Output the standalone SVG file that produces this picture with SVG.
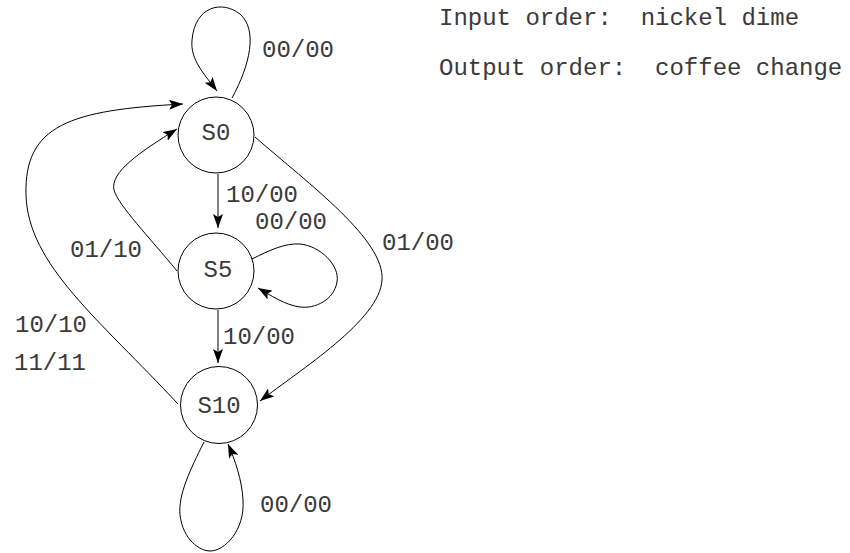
<svg xmlns="http://www.w3.org/2000/svg" width="850" height="553" viewBox="0 0 850 553">
  <style>
    .state { fill: #ffffff; stroke: #000000; stroke-width: 1; }
    .edge { fill: none; stroke: #000000; stroke-width: 1; marker-end: url(#arrow); }
    text { font-family: "Liberation Mono", "Courier New", monospace; font-size: 24px; fill: #3a3a3a; white-space: pre; }
    .name { text-anchor: middle; }
  </style>
  <defs>
    <marker id="arrow" viewBox="0 0 14 10" refX="14" refY="5" markerWidth="14" markerHeight="10" markerUnits="userSpaceOnUse" orient="auto">
      <path d="M0,0 L14,5 L0,10 L3,5 z" fill="#000000"/>
    </marker>
  </defs>

  <rect width="850" height="553" fill="#ffffff"/>

  <!-- transitions -->
  <g id="edges">
    <!-- S0 self loop -->
    <path class="edge" d="M232,98 C250,65 258,30 240,14 C222,0 195,6 192,40 C190,60 205,75 217,91"/>
    <!-- S0 to S5 -->
    <path class="edge" d="M218,174 L218,228"/>
    <!-- S5 self loop -->
    <path class="edge" d="M252,259 C270,250 285,243 300,244 C320,246 340,265 337,282 C334,300 315,309 300,307 C285,305 270,295 258,288"/>
    <!-- S5 to S10 -->
    <path class="edge" d="M218,310 L218,363"/>
    <!-- S0 to S10 -->
    <path class="edge" d="M255,137 C310,185 385,240 382,280 C380,320 300,370 260,401"/>
    <!-- S5 back to S0 -->
    <path class="edge" d="M177,271 C150,238 118,205 114,190 C110,172 140,152 177,129"/>
    <!-- S10 back to S0 -->
    <path class="edge" d="M178,404 C100,320 28,265 26,195 C24,125 70,110 183,104"/>
    <!-- S10 self loop -->
    <path class="edge" d="M204,442 C190,470 178,495 180,515 C183,540 200,551 210,551 C225,551 245,530 243,500 C242,480 235,460 228,444"/>
  </g>

  <!-- transition labels -->
  <g id="labels">
    <text x="262" y="57">00/00</text>
    <text x="226" y="202">10/00</text>
    <text x="255" y="229">00/00</text>
    <text x="70" y="257">01/10</text>
    <text x="382" y="250">01/00</text>
    <text x="223" y="344">10/00</text>
    <text x="15" y="332">10/10</text>
    <text x="14" y="370">11/11</text>
    <text x="260" y="512">00/00</text>
  </g>

  <!-- states -->
  <g id="S0">
    <circle class="state" cx="216" cy="135" r="38"/>
    <text class="name" x="216" y="140">S0</text>
  </g>
  <g id="S5">
    <circle class="state" cx="216" cy="271" r="38"/>
    <text class="name" x="218" y="277">S5</text>
  </g>
  <g id="S10">
    <circle class="state" cx="219" cy="405" r="38.5"/>
    <text class="name" x="219" y="413">S10</text>
  </g>

  <!-- legend -->
  <g id="legend">
    <text x="439" y="25" xml:space="preserve">Input order:  nickel dime</text>
    <text x="439" y="75" xml:space="preserve">Output order:  coffee change</text>
  </g>
</svg>
